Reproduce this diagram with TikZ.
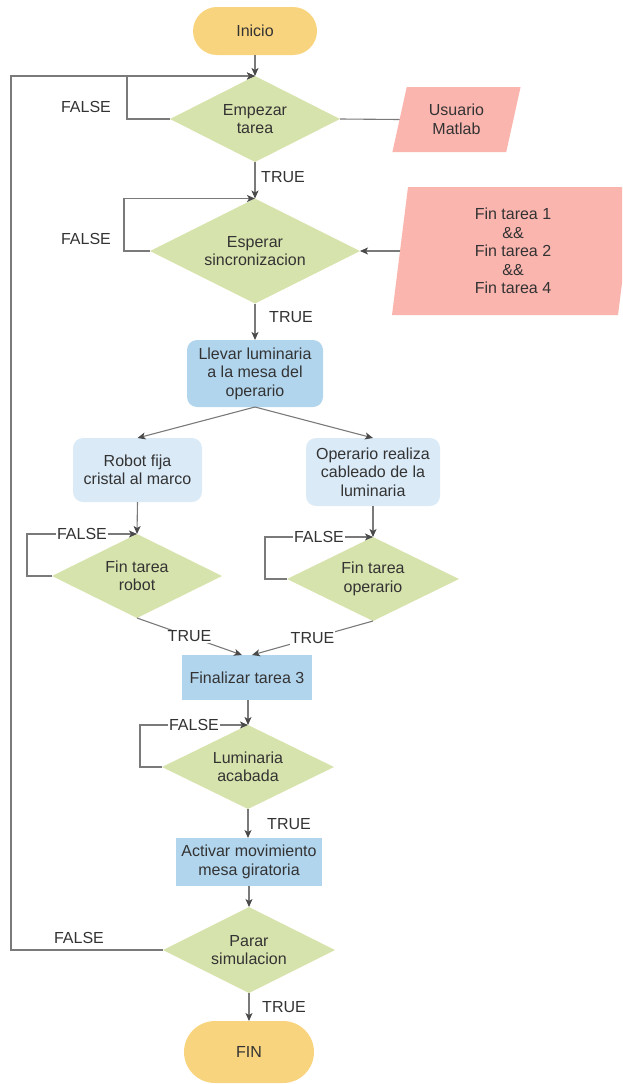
\documentclass[tikz,border=0pt]{standalone}
\usepackage{fontspec}
\setmainfont{Liberation Sans}
\usetikzlibrary{shapes.geometric,arrows.meta}
\definecolor{termfill}{HTML}{F9D47F}
\definecolor{decfill}{HTML}{D7E3AC}
\definecolor{iofill}{HTML}{FBB5AF}
\definecolor{procfill}{HTML}{B2D5EE}
\definecolor{subfill}{HTML}{DAEAF7}
\definecolor{linec}{HTML}{7A7A7A}
\definecolor{tipc}{HTML}{4A4A4A}
\definecolor{textc}{HTML}{333333}
\begin{document}
\begin{tikzpicture}[x=1pt,y=-1pt,
  every node/.style={font=\fontsize{16}{18.5}\selectfont, text=textc, align=center, outer sep=0pt},
  term/.style={rectangle, fill=termfill, inner sep=0pt},
  decision/.style={diamond, fill=decfill, inner sep=0pt, aspect=2},
  procbox/.style={rectangle, fill=procfill, inner sep=0pt},
  subbox/.style={rectangle, fill=subfill, inner sep=0pt, rounded corners=10pt},
  iobox/.style={trapezium, fill=iofill, trapezium stretches=true, inner sep=0pt},
  link/.style={draw=linec, line width=1.1pt},
  flow/.style={link, -{Stealth[length=8pt,width=7pt,inset=2pt,color=tipc]}},
  lbl/.style={fill=white, inner sep=1pt}
]
\useasboundingbox (0,0) rectangle (622,1084);
\clip (0,0) rectangle (622,1084);

% start / end terminals
\node[term, rounded corners=24pt, minimum width=124pt, minimum height=48pt] (inicio) at (255,31) {Inicio};
\node[term, rounded corners=31pt, minimum width=130pt, minimum height=62pt] (fin) at (249,1052) {FIN};

% decisions
\node[decision, minimum width=170pt, minimum height=86pt] (d1) at (255,119) {Empezar\\tarea};
\node[decision, minimum width=210pt, minimum height=105pt] (d2) at (255,251) {Esperar\\sincronizacion};
\node[decision, minimum width=170pt, minimum height=84pt] (dr) at (137,576) {Fin tarea\\robot};
\node[decision, minimum width=172pt, minimum height=84pt] (do) at (373,579) {Fin tarea\\operario};
\node[decision, minimum width=172pt, minimum height=84pt] (dl) at (248,767) {Luminaria\\acabada};
\node[decision, minimum width=172pt, minimum height=86pt] (dp) at (249,950) {Parar\\simulacion};

% inputs
\node[iobox, trapezium left angle=75.3, trapezium right angle=104.7,
      minimum width=129pt, minimum height=65pt] (usr) at (456.5,119.5) {Usuario\\Matlab};
% the wide input runs past the right edge of the page
\fill[iofill] (408,187) -- (634,187) -- (618,315) -- (392,315) -- cycle;
\node (sync) at (513,251) {Fin tarea 1\\\&\&\\Fin tarea 2\\\&\&\\Fin tarea 4};
\coordinate (syncw) at (400,251);

% processes
\node[procbox, rounded corners=10pt, minimum width=136pt, minimum height=67pt] (llevar) at (255,373.5)
      {Llevar luminaria\\a la mesa del\\operario};
\node[subbox, minimum width=129pt, minimum height=64pt] (robot) at (137.5,470) {Robot fija\\cristal al marco};
\node[subbox, minimum width=134pt, minimum height=68pt] (oper) at (373,472) {Operario realiza\\cableado de la\\luminaria};
\node[procbox, minimum width=130pt, minimum height=45pt] (fin3) at (247,677.5) {Finalizar tarea 3};
\node[procbox, minimum width=146pt, minimum height=48pt] (act) at (249,862) {Activar movimiento\\mesa giratoria};

% arrival points on top of the final task box
\coordinate (fin3l) at (242,655);
\coordinate (fin3r) at (252,655);

% connectors
\draw[flow] (inicio.south) -- (d1.north);
\draw[flow] (d1.west) -- ++(-43,0) |- (d1.north);
\node at (86,107) {FALSE};
\draw[flow] (dp.west) -- ++(-152,0) |- (d1.north);
\node at (79,938) {FALSE};
\draw[link] (d1.east) -- (usr.west);

\draw[flow] (d1.south) -- (d2.north);
\node at (283,177) {TRUE};
\draw[flow] (d2.west) -- ++(-26,0) |- (d2.north);
\node at (86,239) {FALSE};
\draw[flow] (syncw) -- (d2.east);

\draw[flow] (d2.south) -- (llevar.north);
\node at (291,317) {TRUE};

\draw[flow] (llevar.south) -- (robot.north);
\draw[flow] (llevar.south) -- (oper.north);

\draw[flow] (robot.south) -- (dr.north);
\draw[flow] (dr.west) -- ++(-25,0) |- node[lbl, pos=0.75] {FALSE} (dr.north);
\draw[flow] (oper.south) -- (do.north);
\draw[flow] (do.west) -- ++(-22,0) |- node[lbl, pos=0.75] {FALSE} (do.north);

\draw[flow] (dr.south) -- node[lbl] {TRUE} (fin3l);
\draw[flow] (do.south) -- node[lbl] {TRUE} (fin3r);

\draw[flow] (fin3.south -| dl.north) -- (dl.north);
\draw[flow] (dl.west) -- ++(-22,0) |- node[lbl, pos=0.75] {FALSE} (dl.north);
\draw[flow] (dl.south) -- (act.north -| dl.south);
\node at (289,824) {TRUE};

\draw[flow] (act.south) -- (dp.north);
\draw[flow] (dp.south) -- (fin.north);
\node at (284,1007) {TRUE};
\end{tikzpicture}
\end{document}
